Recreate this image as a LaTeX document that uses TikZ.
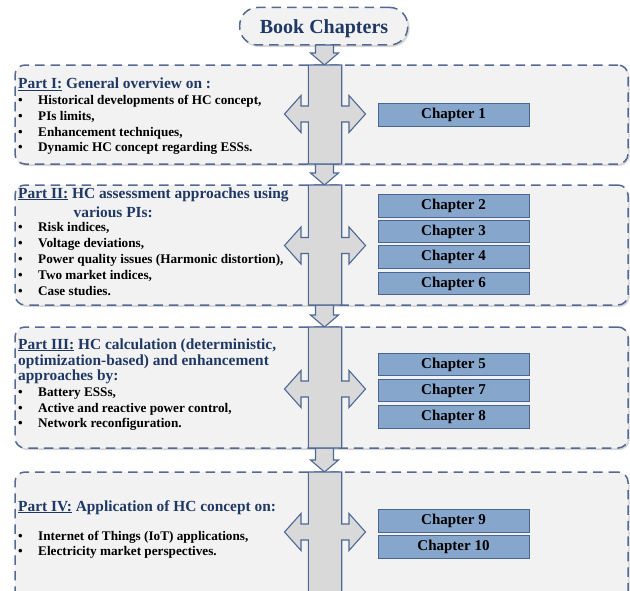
\documentclass[tikz,border=0pt]{standalone}
\usepackage{fontspec}
\setmainfont{Liberation Serif}
\usetikzlibrary{calc}
\definecolor{navy}{RGB}{31,56,100}
\definecolor{boxfill}{RGB}{242,242,242}
\definecolor{dashcol}{RGB}{84,106,148}
\definecolor{barfill}{RGB}{217,217,217}
\definecolor{barline}{RGB}{78,104,150}
\definecolor{chapfill}{RGB}{134,166,204}
\definecolor{chapline}{RGB}{71,102,148}
\tikzset{
  partbox/.style={draw=dashcol, line width=1.5pt, dash pattern=on 9.5pt off 6pt, fill=boxfill, rounded corners=10pt, inner sep=0pt},
  shadowbox/.style={fill=black!45, opacity=0.35, rounded corners=10pt},
  barstyle/.style={draw=barline, line width=1.1pt, fill=barfill, line join=miter},
  chapbox/.style={draw=chapline, line width=0.8pt, fill=chapfill, minimum width=151pt, minimum height=22.5pt, inner sep=0pt, font=\fontsize{15}{17}\selectfont\bfseries},
  titletext/.style={anchor=base west, inner sep=0pt, text=navy, font=\fontsize{15.4}{17}\selectfont\bfseries},
  bullettext/.style={anchor=base west, inner sep=0pt, font=\fontsize{13.2}{16}\selectfont\bfseries},
  bulletmark/.style={anchor=base west, inner sep=0pt, font=\fontsize{13.2}{16}\selectfont\bfseries}
}
\newcommand\hccross[3]{% top, bottom, centre y
  \draw[barstyle] (308.3,#1) -- (341.7,#1) -- (341.7,#3-8) -- (349,#3-8) -- (349,#3-18.5) -- (365.5,#3) -- (349,#3+18.5) -- (349,#3+8) -- (341.7,#3+8) -- (341.7,#2) -- (308.3,#2) -- (308.3,#3+8) -- (301,#3+8) -- (301,#3+18.5) -- (284.5,#3) -- (301,#3-18.5) -- (301,#3-8) -- (308.3,#3-8) -- cycle;}
\newcommand\hcdown[2]{% top, tip
  \draw[barstyle] (315.5,#1) -- (315.5,#2-12) -- (310.5,#2-12) -- (324.5,#2) -- (338.5,#2-12) -- (333.5,#2-12) -- (333.5,#1) -- cycle;}
\newcommand\hcitem[3]{% name, baseline y, text
  \node[bulletmark] (#1b) at (18,#2) {•};
  \node[bullettext] (#1) at (38,#2) {#3};}
\begin{document}
\begin{tikzpicture}[x=1pt,y=-1pt]
\useasboundingbox (0,0) rectangle (630,590);
\clip (0,0) rectangle (630,590);
% shadows
\fill[shadowbox] (16.5,67) rectangle (629.5,166);
\fill[shadowbox] (16.5,187) rectangle (629.5,307);
\fill[shadowbox] (16.5,329) rectangle (629.5,450);
\fill[shadowbox] (16.5,474) rectangle (629.5,610);
\fill[shadowbox, rounded corners=18pt] (241,9) rectangle (409.5,47);
% boxes
\node[partbox, rounded corners=18pt, minimum width=168pt, minimum height=37.5pt] (book) at (323.7,26.2) {};
\node[anchor=base, inner sep=0pt, text=navy, font=\fontsize{20}{22}\selectfont\bfseries] (booktxt) at (324,33.3) {Book Chapters};
\node[partbox, minimum width=613pt, minimum height=99pt] (p1) at (321.5,114.5) {};
\node[partbox, minimum width=613pt, minimum height=120pt] (p2) at (321.5,245) {};
\node[partbox, minimum width=613pt, minimum height=121pt] (p3) at (321.5,387.5) {};
\node[partbox, minimum width=613pt, minimum height=133pt] (p4) at (321.5,538.5) {};
% arrows
\hcdown{45}{65}
\hcdown{164}{185}
\hcdown{305}{327}
\hcdown{448}{472}
\hccross{65}{164}{114}
\hccross{185}{305}{245.5}
\hccross{327}{448}{389}
\hccross{472}{600}{532}
% chapters
\node[chapbox] (c1) at (453.5,115) {Chapter 1};
\node[chapbox] (c2) at (453.5,206) {Chapter 2};
\node[chapbox] (c3) at (453.5,231.5) {Chapter 3};
\node[chapbox] (c4) at (453.5,257) {Chapter 4};
\node[chapbox] (c6) at (453.5,283.5) {Chapter 6};
\node[chapbox] (c5) at (453.5,364.5) {Chapter 5};
\node[chapbox] (c7) at (453.5,390.5) {Chapter 7};
\node[chapbox] (c8) at (453.5,417) {Chapter 8};
\node[chapbox] (c9) at (453.5,521) {Chapter 9};
\node[chapbox] (c10) at (453.5,547) {Chapter 10};
% Part I
\node[titletext] (t1) at (18,88.3) {\underline{Part I:} General overview on :};
\hcitem{a1}{104.3}{Historical developments of HC concept,}
\hcitem{a2}{120}{PIs limits,}
\hcitem{a3}{136}{Enhancement techniques,}
\hcitem{a4}{151.7}{Dynamic HC concept regarding ESSs.}
% Part II
\node[titletext] (t2) at (18,198) {\underline{Part II:} HC assessment approaches using};
\node[titletext] (t2b) at (73.5,217) {various PIs:};
\hcitem{b1}{231.5}{Risk indices,}
\hcitem{b2}{247.5}{Voltage deviations,}
\hcitem{b3}{263.5}{Power quality issues (Harmonic distortion),}
\hcitem{b4}{279.5}{Two market indices,}
\hcitem{b5}{295.5}{Case studies.}
% Part III
\node[titletext] (t3) at (18,349) {\underline{Part III:} HC calculation (deterministic,};
\node[titletext] (t3b) at (18,365) {optimization-based) and enhancement};
\node[titletext] (t3c) at (18,380) {approaches by:};
\hcitem{d1}{396.5}{Battery ESSs,}
\hcitem{d2}{412.5}{Active and reactive power control,}
\hcitem{d3}{427.5}{Network reconfiguration.}
% Part IV
\node[titletext] (t4) at (18,511) {\underline{Part IV:} Application of HC concept on:};
\hcitem{e1}{540.5}{Internet of Things (IoT) applications,}
\hcitem{e2}{555.5}{Electricity market perspectives.}
\end{tikzpicture}
\end{document}
